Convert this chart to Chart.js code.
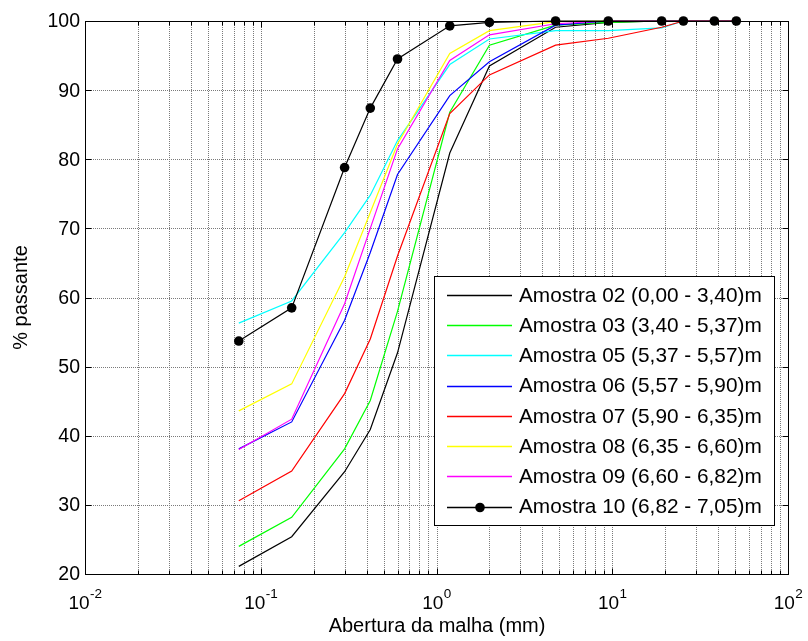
<!DOCTYPE html>
<html>
<head>
<meta charset="utf-8">
<script src="https://cdn.jsdelivr.net/npm/chart.js@4"></script>
<style>
  html, body { margin: 0; padding: 0; background: #fff; }
  canvas { display: block; }
</style>
</head>
<body>
<canvas id="c" width="808" height="641"></canvas>
<script>
// ---- data ----
const sieves = [0.075, 0.15, 0.3, 0.42, 0.6, 1.19, 2.0, 4.76, 9.5, 19.1, 25.4, 38.1, 50.8];
const seriesNames = [
  "Amostra 02 (0,00 - 3,40)m",
  "Amostra 03 (3,40 - 5,37)m",
  "Amostra 05 (5,37 - 5,57)m",
  "Amostra 06 (5,57 - 5,90)m",
  "Amostra 07 (5,90 - 6,35)m",
  "Amostra 08 (6,35 - 6,60)m",
  "Amostra 09 (6,60 - 6,82)m",
  "Amostra 10 (6,82 - 7,05)m"
];
const amostra02 = [21.1, 25.4, 34.8, 40.9, 52.0, 80.9, 93.5, 99.1, 99.8, 100, 100, 100, 100];
const amostra03 = [24.0, 28.2, 38.1, 45.1, 58.0, 86.8, 96.5, 99.4, 99.8, 100, 100, 100, 100];
const amostra05 = [56.3, 59.5, 69.4, 74.8, 82.7, 93.7, 97.4, 98.6, 98.6, 99.0, 100, 100, 100];
const amostra06 = [38.1, 42.0, 56.7, 66.5, 77.8, 89.2, 94.1, 99.4, 100, 100, 100, 100, 100];
const amostra07 = [30.6, 34.9, 46.1, 54.0, 66.0, 86.6, 92.2, 96.5, 97.5, 99.1, 100, 100, 100];
const amostra08 = [43.6, 47.5, 63.0, 72.3, 82.2, 95.3, 98.6, 99.9, 100, 100, 100, 100, 100];
const amostra09 = [38.0, 42.4, 59.1, 70.0, 81.5, 94.3, 98.0, 99.6, 100, 100, 100, 100, 100];
const amostra10 = [53.7, 58.5, 78.8, 87.4, 94.5, 99.3, 99.8, 100, 100, 100, 100, 100, 100];
const seriesValues = [amostra02, amostra03, amostra05, amostra06, amostra07, amostra08, amostra09, amostra10];
const seriesColors = ["#000000", "#00ff00", "#00ffff", "#0000ff", "#ff0000", "#ffff00", "#ff00ff", "#000000"];
const seriesMarkers = [false, false, false, false, false, false, false, true];
const yTicks = [20, 30, 40, 50, 60, 70, 80, 90, 100];
const xDecades = [-2, -1, 0, 1, 2];
const xTitle = "Abertura da malha (mm)";
const yTitle = "% passante";

// ---- build datasets ----
const datasets = seriesValues.map((vals, i) => ({
  label: seriesNames[i],
  data: sieves.map((s, j) => ({ x: s, y: vals[j] })),
  borderColor: seriesColors[i],
  backgroundColor: seriesColors[i],
  borderWidth: 1.2,
  showLine: true,
  tension: 0,
  pointRadius: seriesMarkers[i] ? 4.8 : 0,
  pointHoverRadius: seriesMarkers[i] ? 4.8 : 0,
  pointBorderWidth: 0,
  order: seriesValues.length - i,
  clip: false
}));

const FONT = '"Liberation Sans", Arial, Helvetica, sans-serif';

const matlabPlugin = {
  id: 'matlabLook',
  beforeDatasetsDraw(chart) {
    const ctx = chart.ctx, a = chart.chartArea;
    const xs = chart.scales.x, ys = chart.scales.y;
    ctx.save();
    ctx.strokeStyle = '#7a7a7a';
    ctx.lineWidth = 1;
    ctx.setLineDash([1, 1]);
    for (let d = xDecades[0]; d < xDecades[xDecades.length - 1]; d++) {
      for (let k = 1; k <= 9; k++) {
        const v = k * Math.pow(10, d);
        const px = Math.round(xs.getPixelForValue(v)) + 0.5;
        if (px <= a.left + 1 || px >= a.right - 1) continue;
        ctx.beginPath(); ctx.moveTo(px, a.top); ctx.lineTo(px, a.bottom); ctx.stroke();
      }
    }
    yTicks.forEach(t => {
      const py = Math.round(ys.getPixelForValue(t)) + 0.5;
      if (py <= a.top + 1 || py >= a.bottom - 1) return;
      ctx.beginPath(); ctx.moveTo(a.left, py); ctx.lineTo(a.right, py); ctx.stroke();
    });
    ctx.restore();
  },
  afterDatasetsDraw(chart) {
    const ctx = chart.ctx, a = chart.chartArea;
    const xs = chart.scales.x, ys = chart.scales.y;
    ctx.save();
    ctx.setLineDash([]);
    ctx.strokeStyle = '#000';
    ctx.lineWidth = 1;
    const L = Math.round(a.left) + 0.5, R = Math.round(a.right) + 0.5;
    const T = Math.round(a.top) + 0.5, B = Math.round(a.bottom) + 0.5;
    ctx.beginPath();
    for (let d = xDecades[0]; d < xDecades[xDecades.length - 1]; d++) {
      for (let k = 1; k <= 9; k++) {
        const v = k * Math.pow(10, d);
        const px = Math.round(xs.getPixelForValue(v)) + 0.5;
        const len = k === 1 ? 6 : 4;
        ctx.moveTo(px, B); ctx.lineTo(px, B - len);
        ctx.moveTo(px, T); ctx.lineTo(px, T + len);
      }
    }
    yTicks.forEach(t => {
      const py = Math.round(ys.getPixelForValue(t)) + 0.5;
      ctx.moveTo(L, py); ctx.lineTo(L + 6, py);
      ctx.moveTo(R, py); ctx.lineTo(R - 6, py);
    });
    ctx.stroke();
    ctx.strokeRect(L, T, R - L, B - T);

    ctx.fillStyle = '#000';
    ctx.font = '19.5px ' + FONT;
    ctx.textAlign = 'right';
    ctx.textBaseline = 'middle';
    yTicks.forEach(t => {
      ctx.fillText(String(t), a.left - 5, ys.getPixelForValue(t) + 1);
    });
    ctx.textAlign = 'left';
    ctx.textBaseline = 'alphabetic';
    xDecades.forEach(d => {
      const px = xs.getPixelForValue(Math.pow(10, d));
      ctx.font = '19px ' + FONT;
      const wb = ctx.measureText('10').width;
      ctx.font = '13.5px ' + FONT;
      const es = String(d);
      const we = ctx.measureText(es).width;
      const x0 = px - (wb + we) / 2;
      ctx.font = '19px ' + FONT;
      ctx.fillText('10', x0, a.bottom + 34.5);
      ctx.font = '13.5px ' + FONT;
      ctx.fillText(es, x0 + wb + 0.5, a.bottom + 24);
    });
    ctx.font = '20px ' + FONT;
    ctx.textAlign = 'center';
    ctx.textBaseline = 'alphabetic';
    ctx.fillText(xTitle, (a.left + a.right) / 2 + 0.5, 632);
    ctx.save();
    ctx.translate(21, (a.top + a.bottom) / 2);
    ctx.rotate(-Math.PI / 2);
    ctx.textBaseline = 'middle';
    ctx.fillText(yTitle, 0, 0);
    ctx.restore();

    // legend
    const lx0 = 434.5, ly0 = 276.5, lx1 = 774.5, ly1 = 525.5;
    ctx.fillStyle = '#fff';
    ctx.fillRect(lx0, ly0, lx1 - lx0, ly1 - ly0);
    ctx.strokeStyle = '#000';
    ctx.lineWidth = 1;
    ctx.strokeRect(lx0, ly0, lx1 - lx0, ly1 - ly0);
    ctx.font = '20.8px ' + FONT;
    ctx.textAlign = 'left';
    ctx.textBaseline = 'middle';
    chart.data.datasets.forEach((ds, i) => {
      const cy = 295 + i * 30.24;
      const ly = Math.round(cy) + 0.5;
      ctx.strokeStyle = ds.borderColor;
      ctx.lineWidth = 1.4;
      ctx.beginPath(); ctx.moveTo(447, ly); ctx.lineTo(512, ly); ctx.stroke();
      if (ds.pointRadius > 0) {
        ctx.fillStyle = ds.backgroundColor;
        ctx.beginPath(); ctx.arc(480, ly, ds.pointRadius, 0, Math.PI * 2); ctx.fill();
      }
      ctx.fillStyle = '#000';
      ctx.fillText(ds.label, 519, cy + 1);
    });
    ctx.restore();
  }
};

new Chart(document.getElementById('c'), {
  type: 'scatter',
  data: { datasets },
  options: {
    responsive: false,
    animation: false,
    events: [],
    layout: { padding: { left: 85, right: 20, top: 21, bottom: 67 } },
    plugins: { legend: { display: false }, tooltip: { enabled: false }, title: { display: false } },
    scales: {
      x: {
        type: 'logarithmic', min: 0.01, max: 100,
        ticks: { display: false }, grid: { display: false, drawTicks: false }, border: { display: false },
        afterFit: s => { s.height = 0; }
      },
      y: {
        type: 'linear', min: 20, max: 100,
        ticks: { display: false, stepSize: 10 }, grid: { display: false, drawTicks: false }, border: { display: false },
        afterFit: s => { s.width = 0; }
      }
    }
  },
  plugins: [matlabPlugin]
});
</script>
</body>
</html>
